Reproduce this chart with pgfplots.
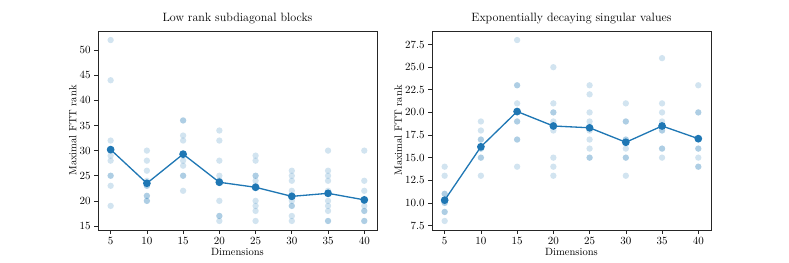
\documentclass[border=0pt]{standalone}
\usepackage{pgfplots}
\pgfplotsset{compat=1.18}
\definecolor{mplblue}{HTML}{1F77B4}
\pgfplotsset{
  myaxis/.style={
    scale only axis, width=254.6pt, height=181.6pt,
    anchor=south west,
    axis line style={black!85, line width=0.6pt},
    tick align=outside, xtick pos=bottom, ytick pos=left,
    major tick length=3.2pt,
    every tick/.style={black!85, line width=0.6pt},
    xmin=3.25, xmax=41.75,
    xtick={5,10,15,20,25,30,35,40},
    xlabel={Dimensions}, ylabel={Maximal FTT rank},
    tick label style={font=\fontsize{9.6}{11}\selectfont},
    label style={font=\fontsize{9.6}{11}\selectfont},
    title style={font=\fontsize{11}{13}\selectfont, yshift=-3.5pt},
    xlabel style={yshift=3pt},
    ylabel style={yshift=-4pt},
  },
  scat/.style={only marks, color=mplblue, mark=*, mark size=2.9pt, draw opacity=0, fill opacity=0.2},
  meanline/.style={mplblue, line width=1.2pt, mark=*, mark size=2.9pt, mark options={fill=mplblue, draw=none}},
}
\begin{document}
\begin{tikzpicture}
\path[use as bounding box] (0,0) rectangle (720pt,240pt);
\begin{axis}[myaxis, at={(89.4pt,30.1pt)},
  title={Low rank subdiagonal blocks},
  ymin=14.2, ymax=53.8, ytick={15,20,25,30,35,40,45,50}]
\addplot[scat] coordinates {
 (5,52) (5,44) (5,32) (5,30) (5,29) (5,28) (5,25) (5,25) (5,23) (5,19)
 (10,30) (10,28) (10,26) (10,24) (10,23) (10,23) (10,21) (10,21) (10,20) (10,20)
 (15,36) (15,36) (15,33) (15,32) (15,29) (15,28) (15,27) (15,25) (15,25) (15,22)
 (20,34) (20,32) (20,28) (20,25) (20,24) (20,24) (20,20) (20,17) (20,17) (20,16)
 (25,29) (25,28) (25,25) (25,25) (25,24) (25,23) (25,20) (25,19) (25,18) (25,16)
 (30,26) (30,25) (30,24) (30,22) (30,21) (30,20) (30,19) (30,19) (30,17) (30,16)
 (35,30) (35,26) (35,25) (35,24) (35,22) (35,20) (35,19) (35,18) (35,16) (35,16)
 (40,30) (40,24) (40,22) (40,20) (40,19) (40,18) (40,18) (40,16) (40,16) (40,20)
};
\addplot[meanline] coordinates {
 (5,30.2) (10,23.5) (15,29.3) (20,23.7) (25,22.7) (30,20.9) (35,21.5) (40,20.2)
};
\end{axis}
\begin{axis}[myaxis, at={(394.2pt,30.1pt)},
  title={Exponentially decaying singular values},
  ymin=7, ymax=29, ytick={7.5,10,12.5,15,17.5,20,22.5,25,27.5},
  yticklabel style={/pgf/number format/fixed, /pgf/number format/fixed zerofill, /pgf/number format/precision=1}]
\addplot[scat] coordinates {
 (5,14) (5,13) (5,11) (5,11) (5,10) (5,9) (5,9) (5,8) (5,10)
 (10,19) (10,18) (10,17) (10,17) (10,16) (10,16) (10,15) (10,15) (10,13)
 (15,28) (15,23) (15,23) (15,21) (15,20) (15,19) (15,19) (15,17) (15,17) (15,14)
 (20,25) (20,21) (20,20) (20,20) (20,19) (20,18) (20,15) (20,14) (20,13)
 (25,23) (25,22) (25,20) (25,19) (25,18) (25,17) (25,16) (25,15) (25,15)
 (30,21) (30,19) (30,19) (30,17) (30,17) (30,16) (30,15) (30,15) (30,13)
 (35,26) (35,21) (35,20) (35,19) (35,18) (35,18) (35,16) (35,16) (35,15)
 (40,23) (40,20) (40,20) (40,17) (40,16) (40,16) (40,15) (40,14) (40,14)
};
\addplot[meanline] coordinates {
 (5,10.3) (10,16.2) (15,20.1) (20,18.5) (25,18.3) (30,16.7) (35,18.5) (40,17.1)
};
\end{axis}
\end{tikzpicture}
\end{document}
